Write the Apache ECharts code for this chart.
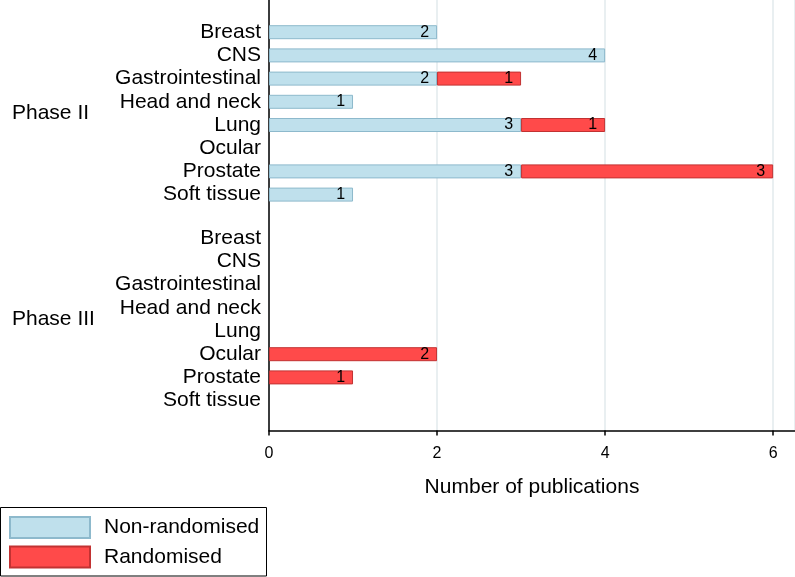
<!DOCTYPE html>
<html>
<head>
<meta charset="utf-8">
<script src="https://cdn.jsdelivr.net/npm/echarts@6/dist/echarts.min.js"></script>
<style>html,body{margin:0;padding:0;background:#fff;}#c{width:795px;height:577px;}</style>
</head>
<body>
<div id="c"></div>
<script>
var sites = ['Breast', 'CNS', 'Gastrointestinal', 'Head and neck', 'Lung', 'Ocular', 'Prostate', 'Soft tissue'];
var phases = ['Phase II', 'Phase III'];
var phase2NonRandomised = [2, 4, 2, 1, 3, 0, 3, 1];
var phase2Randomised = [0, 0, 1, 0, 1, 0, 3, 0];
var phase3NonRandomised = [0, 0, 0, 0, 0, 0, 0, 0];
var phase3Randomised = [0, 0, 0, 0, 0, 2, 1, 0];
var xTicks = [0, 2, 4, 6];
var seriesNames = ['Non-randomised', 'Randomised'];

var FONT = '"Liberation Sans", Arial, Helvetica, sans-serif';
var blue = {color: '#bfe0ec', borderColor: '#8db9cc', borderWidth: 1};
var red = {color: '#ff4a4a', borderColor: '#c23232', borderWidth: 1};
var XMAX = 6.26;
function nz(a) { return a.map(function (v) { return v === 0 ? '-' : v; }); }

var chart = echarts.init(document.getElementById('c'), null, {renderer: 'canvas'});
var labelCfg = {show: true, position: 'insideRight', distance: 8, color: '#000', fontSize: 16, fontFamily: FONT};

function catAxis(grid) {
  return {
    type: 'category', gridIndex: grid, data: sites, inverse: true,
    axisLine: {show: false}, axisTick: {show: false}, splitLine: {show: false},
    axisLabel: {color: '#000', fontSize: 21, fontFamily: FONT, margin: 8, interval: 0}
  };
}
function phaseAxis(grid, name) {
  return {
    type: 'category', gridIndex: grid, data: [name], position: 'left',
    axisLine: {show: false}, axisTick: {show: false}, splitLine: {show: false},
    axisLabel: {color: '#000', fontSize: 21, fontFamily: FONT, margin: 257, align: 'left', padding: [3, 0, 0, 0]}
  };
}
function hiddenX(grid) {
  return {type: 'value', gridIndex: grid, min: 0, max: XMAX, interval: 2, show: false};
}
function legendItem(name, top) {
  return {
    data: [name], orient: 'vertical', left: 9, top: top, padding: 0,
    itemWidth: 80, itemHeight: 21, icon: 'rect',
    textStyle: {color: '#000', fontSize: 21, fontFamily: FONT, padding: [0, 0, 0, 9]}
  };
}

var option = {
  backgroundColor: '#fff',
  animation: false,
  textStyle: {fontFamily: FONT},
  legend: [legendItem(seriesNames[0], 516), legendItem(seriesNames[1], 545.5)],
  graphic: [{
    type: 'rect', z: -1,
    shape: {x: 0.5, y: 507.5, width: 266, height: 68.5},
    style: {fill: 'none', stroke: '#000', lineWidth: 1}
  }],
  grid: [
    {left: 269, right: 0, top: 0, height: 430.5},
    {left: 269, right: 0, top: 20.6, height: 185.6},
    {left: 269, right: 0, top: 226.6, height: 185.6}
  ],
  xAxis: [
    {
      type: 'value', gridIndex: 0, min: 0, max: XMAX, interval: 2,
      name: 'Number of publications', nameLocation: 'middle', nameGap: 46, nameMoveOverlap: false,
      nameTextStyle: {color: '#000', fontSize: 21, fontFamily: FONT},
      axisLine: {show: true, lineStyle: {color: '#000', width: 1.5}},
      axisTick: {show: true, length: 5, lineStyle: {color: '#000', width: 1.5}},
      axisLabel: {color: '#000', fontSize: 16, fontFamily: FONT, margin: 15, showMaxLabel: false,
        formatter: function (v) { return xTicks.indexOf(v) >= 0 ? String(v) : ''; }},
      splitLine: {show: true, lineStyle: {color: '#e9eff1', width: 2}}
    },
    hiddenX(1), hiddenX(2)
  ],
  yAxis: [
    {type: 'value', gridIndex: 0, min: 0, max: 1, axisLine: {show: true, onZero: false, lineStyle: {color: '#000', width: 1.5}},
      axisTick: {show: false}, axisLabel: {show: false}, splitLine: {show: false}},
    catAxis(1), catAxis(2),
    phaseAxis(1, phases[0]), phaseAxis(2, phases[1])
  ],
  series: [
    {name: seriesNames[0], type: 'bar', stack: 'p2', xAxisIndex: 1, yAxisIndex: 1, barWidth: 14,
      data: nz(phase2NonRandomised), itemStyle: blue, label: labelCfg},
    {name: seriesNames[1], type: 'bar', stack: 'p2', xAxisIndex: 1, yAxisIndex: 1, barWidth: 14,
      data: nz(phase2Randomised), itemStyle: red, label: labelCfg},
    {name: seriesNames[0], type: 'bar', stack: 'p3', xAxisIndex: 2, yAxisIndex: 2, barWidth: 14,
      data: nz(phase3NonRandomised), itemStyle: blue, label: labelCfg},
    {name: seriesNames[1], type: 'bar', stack: 'p3', xAxisIndex: 2, yAxisIndex: 2, barWidth: 14,
      data: nz(phase3Randomised), itemStyle: red, label: labelCfg}
  ]
};
chart.setOption(option);
</script>
</body>
</html>
